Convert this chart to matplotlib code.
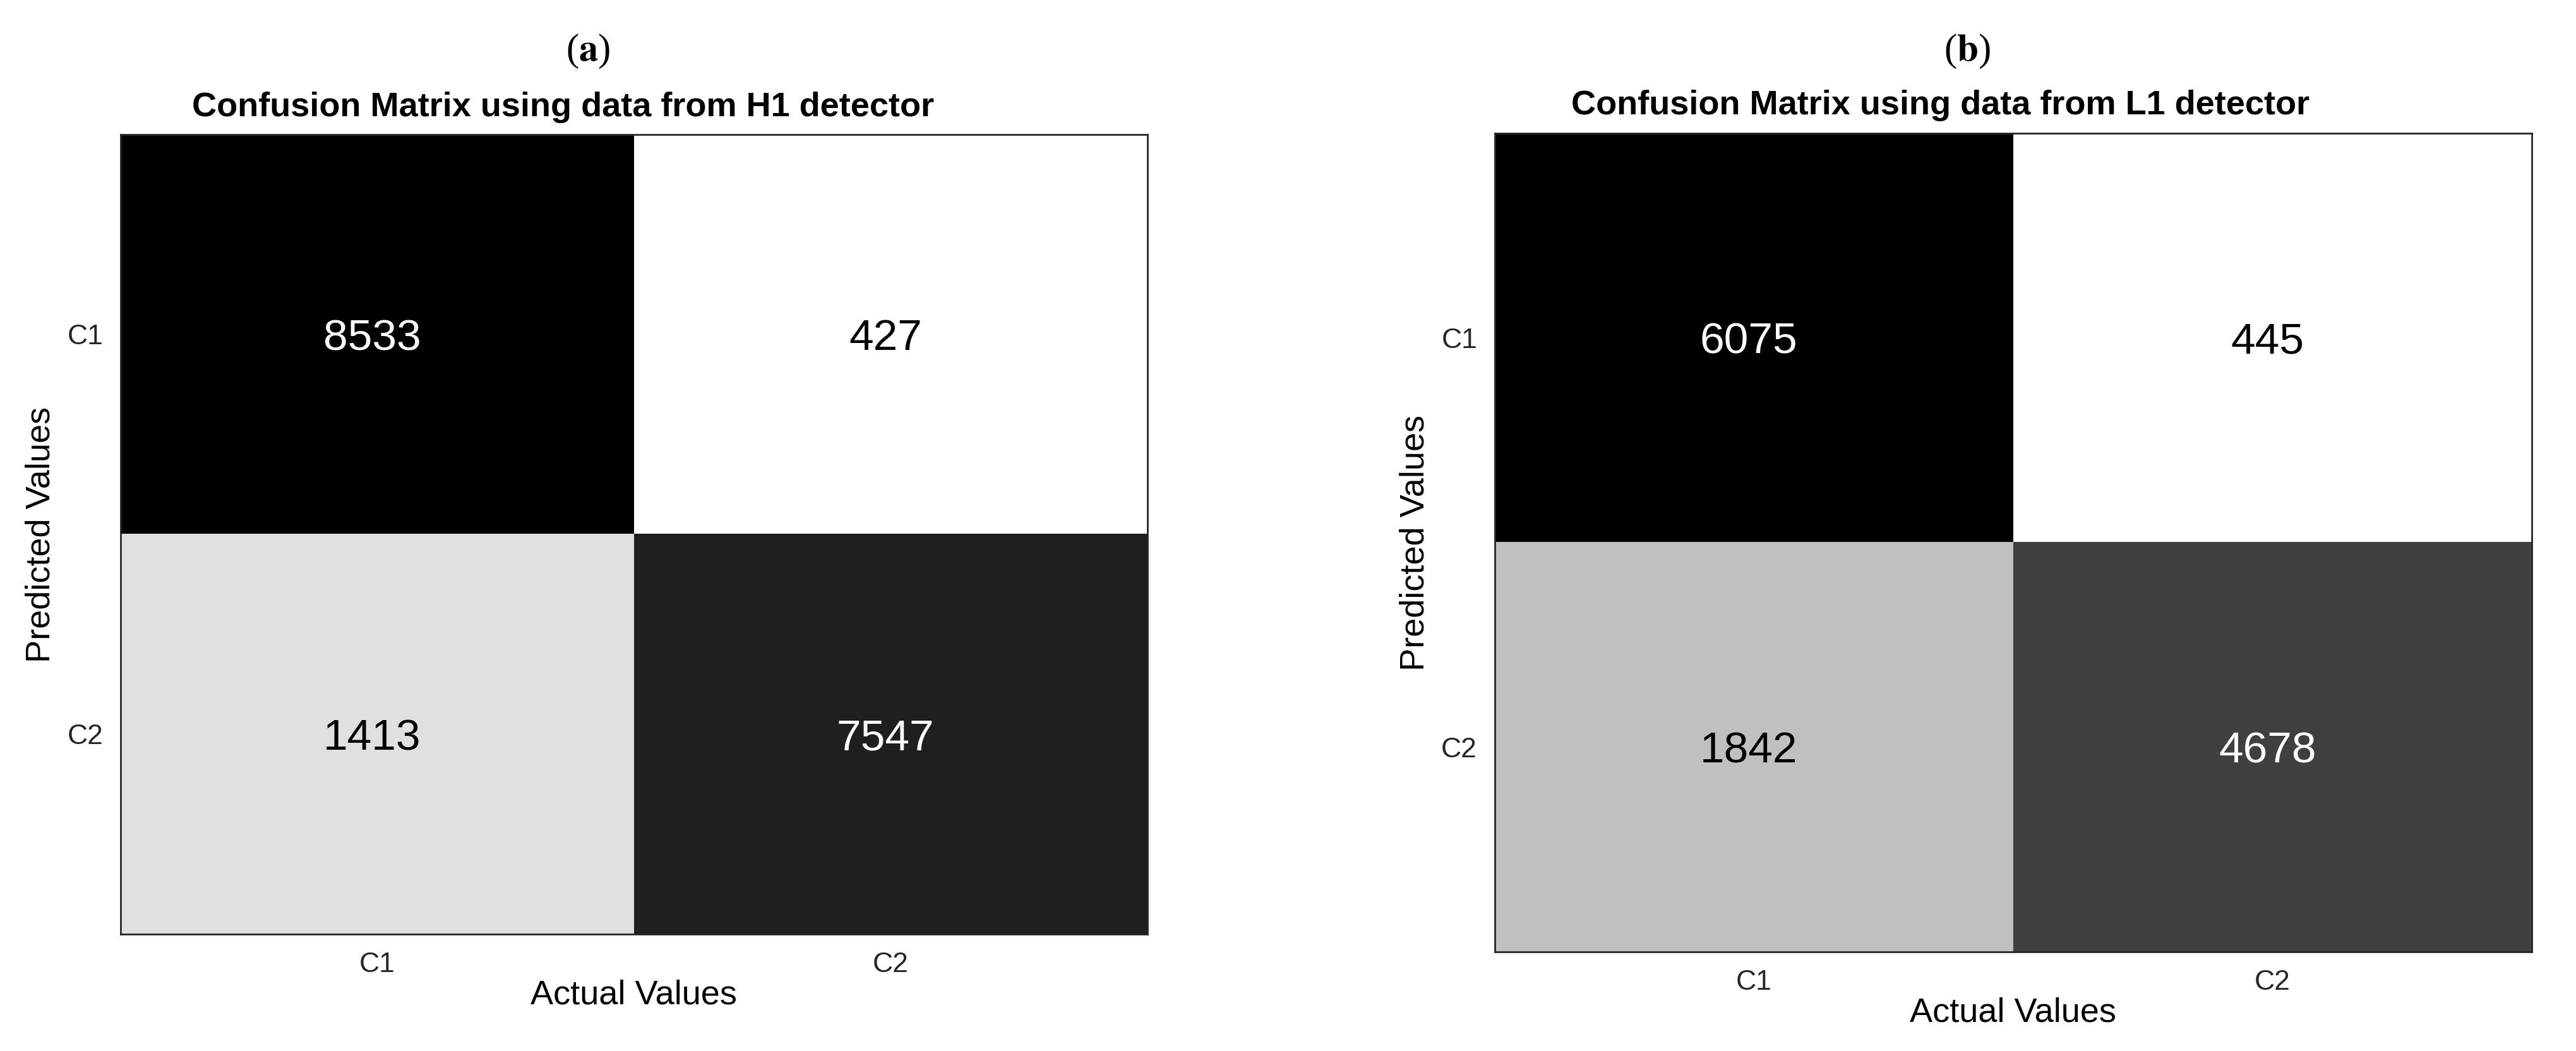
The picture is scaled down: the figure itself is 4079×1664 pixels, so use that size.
import matplotlib
matplotlib.use("Agg")
import matplotlib.pyplot as plt
import numpy as np

# Confusion matrices (rows = predicted, cols = actual)
classes = ["C1", "C2"]
cm_h1 = [[8533, 427],
         [1413, 7547]]
cm_l1 = [[6075, 445],
         [1842, 4678]]

titles = ["Confusion Matrix using data from H1 detector",
          "Confusion Matrix using data from L1 detector"]
panel_tags = ["a", "b"]

plt.rcParams["font.family"] = ["Liberation Sans", "DejaVu Sans"]
plt.rcParams["mathtext.fontset"] = "stix"

fig = plt.figure(figsize=(20.4, 8.32), dpi=200)

rects = [[0.0468, 0.1112, 0.3985, 0.7608],
         [0.5801, 0.0944, 0.4025, 0.7788]]
title_pos = [(0.2184, 0.8978), (0.7532, 0.8996)]
tag_pos = [(0.2282, 0.9513), (0.7635, 0.9513)]

for cm, rect, title, tpos, tag, gpos in zip(
    [cm_h1, cm_l1], rects, titles, title_pos, panel_tags, tag_pos
):
    data = np.array(cm)
    ax = fig.add_axes(rect)
    ax.imshow(data, cmap="gray_r", vmin=data.min(), vmax=data.max(),
              aspect="auto", interpolation="nearest")

    # cell values
    mid = (data.min() + data.max()) / 2
    for i in range(data.shape[0]):
        for j in range(data.shape[1]):
            color = "white" if data[i, j] > mid else "black"
            ax.text(j - 0.01, i, str(data[i, j]), ha="center",
                    va="center_baseline", fontsize=25, color=color)

    ax.set_xticks(range(len(classes)))
    ax.set_yticks(range(len(classes)))
    ax.set_xticklabels(classes)
    ax.set_yticklabels(classes)
    ax.tick_params(length=0, pad=10, labelsize=16, labelcolor="#262626")
    ax.set_xlabel("Actual Values", fontsize=19.5, labelpad=1)
    ax.set_ylabel("Predicted Values", fontsize=19.5, labelpad=6)
    for sp in ax.spines.values():
        sp.set_color("#262626")
        sp.set_linewidth(1.0)

    fig.text(tpos[0], tpos[1], title, ha="center", va="center",
             fontsize=19.5, fontweight="bold")
    fig.text(gpos[0], gpos[1], r"($\mathbf{%s}$)" % tag, ha="center",
             va="center", fontsize=22, family=["Liberation Serif"])

fig.savefig("out.png", dpi=200, facecolor="white")
